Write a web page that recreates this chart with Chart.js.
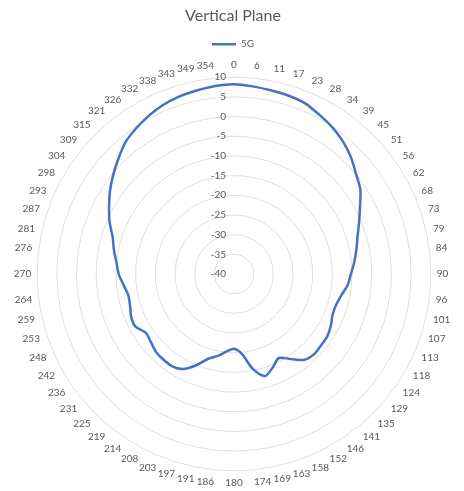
<!DOCTYPE html>
<html>
<head>
<meta charset="utf-8">
<script src="https://cdn.jsdelivr.net/npm/chart.js@4"></script>
<style>
    html, body { margin: 0; padding: 0; background: #ffffff; }
    #wrap { width: 464px; height: 491px; }
</style>
</head>
<body>
<div id="wrap"><canvas id="chart" width="464" height="491"></canvas></div>
<script>
// angle labels (degrees, rounded as in the source sheet)
const angleLabels = [
    '0', '6', '11', '17', '23', '28', '34', '39', '45', '51', '56', '62', '68', '73', '79', '84',
    '90', '96', '101', '107', '113', '118', '124', '129', '135', '141', '146', '152', '158', '163', '169', '174',
    '180', '186', '191', '197', '203', '208', '214', '219', '225', '231', '236', '242', '248', '253', '259', '264',
    '270', '276', '281', '287', '293', '298', '304', '309', '315', '321', '326', '332', '338', '343', '349', '354'
];

// 5G gain, dB
const gain5G = [
    8.2, 7.9, 7.6, 7.4, 7.0, 5.9, 4.9, 3.6, 2.0, 0.1, -1.4, -3.7, -5.6, -7.2, -8.3, -9.3,
    -10.3, -11.0, -12.2, -12.9, -12.9, -12.1, -11.5, -11.4, -11.2, -11.8, -14.0, -15.8, -14.3, -12.9, -15.4, -19.6,
    -21.0, -20.2, -18.8, -17.5, -14.9, -12.6, -11.8, -11.8, -12.0, -12.7, -13.1, -11.6, -11.7, -12.4, -12.6, -11.8,
    -10.7, -10.0, -8.9, -7.8, -5.8, -4.0, -2.1, -0.3, 1.5, 3.4, 4.6, 5.7, 6.6, 7.2, 7.6, 8.0
];

const scaleMin = -40;
const scaleMax = 10;
const scaleStep = 5;

const textColor = '#595959';
const fontFamily = 'Lato, "Open Sans", sans-serif';

// Excel puts the value labels just left of the vertical axis
const tickLabelPlugin = {
    id: 'tickLabels',
    beforeDatasetsDraw(chart) {
        const scale = chart.scales.r;
        const ctx = chart.ctx;
        ctx.save();
        ctx.font = '10px ' + fontFamily;
        ctx.fillStyle = textColor;
        ctx.textAlign = 'right';
        ctx.textBaseline = 'middle';
        for (const tick of scale.ticks) {
            const d = scale.getDistanceFromCenterForValue(tick.value);
            ctx.fillText(String(tick.value), scale.xCenter - 8, scale.yCenter - d);
        }
        ctx.restore();
    }
};

const ctx = document.getElementById('chart').getContext('2d');

new Chart(ctx, {
    type: 'radar',
    data: {
        labels: angleLabels,
        datasets: [
            {
                label: '5G',
                data: gain5G,
                borderColor: '#4472C4',
                backgroundColor: '#4472C4',
                borderWidth: 2.5,
                pointRadius: 0,
                pointHoverRadius: 0,
                fill: false,
                tension: 0.3
            }
        ]
    },
    options: {
        responsive: false,
        animation: false,
        layout: {
            padding: { left: 12, right: 10, top: 0, bottom: 2 }
        },
        plugins: {
            title: {
                display: true,
                text: 'Vertical Plane',
                color: textColor,
                font: { size: 16, family: fontFamily, weight: 'normal' },
                padding: { top: 6, bottom: 8 }
            },
            legend: {
                display: true,
                position: 'top',
                labels: {
                    usePointStyle: true,
                    pointStyle: 'line',
                    pointStyleWidth: 24,
                    color: textColor,
                    padding: 6,
                    font: { size: 10, family: fontFamily }
                }
            },
            tooltip: { enabled: false }
        },
        scales: {
            r: {
                min: scaleMin,
                max: scaleMax,
                ticks: {
                    stepSize: scaleStep,
                    display: false
                },
                grid: {
                    circular: true,
                    color: '#dedede',
                    lineWidth: 1
                },
                angleLines: { display: false },
                pointLabels: {
                    color: textColor,
                    padding: 6,
                    font: { size: 10, family: fontFamily }
                }
            }
        }
    },
    plugins: [tickLabelPlugin]
});
</script>
</body>
</html>
